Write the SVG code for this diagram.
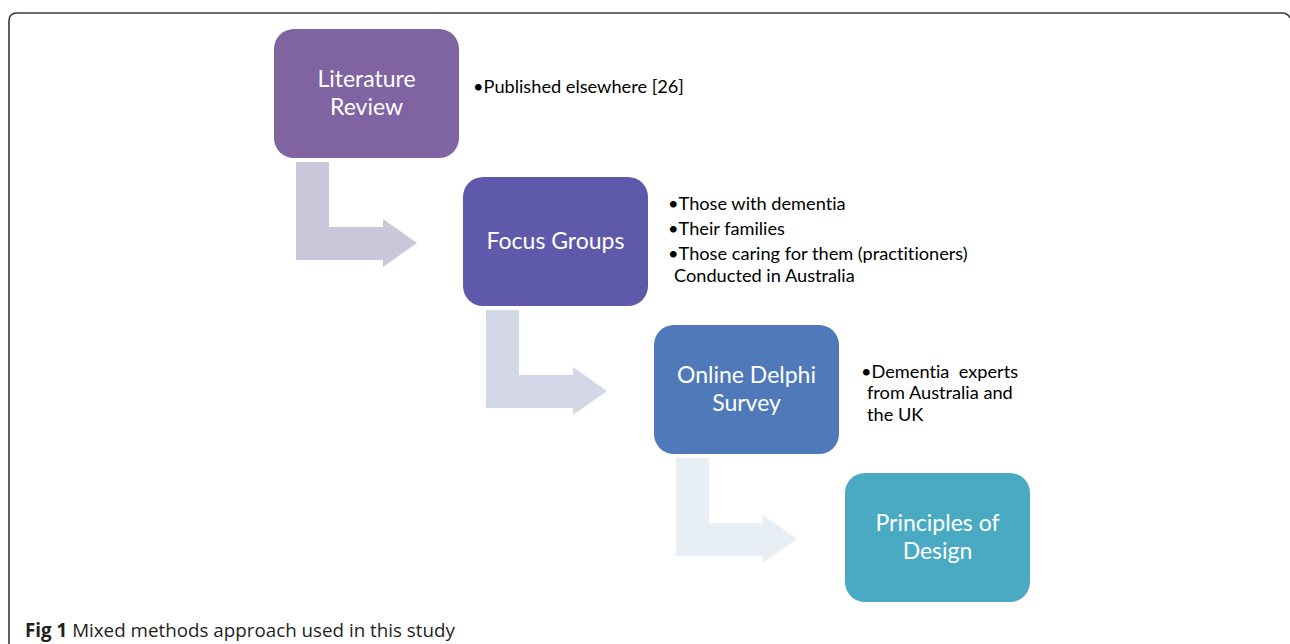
<svg xmlns="http://www.w3.org/2000/svg" width="1290" height="644" viewBox="0 0 1290 644">
<style>
text{font-variant-ligatures:none;font-feature-settings:"liga" 0,"dlig" 0}
.box text{font-family:Lato,"Open Sans","Liberation Sans",sans-serif;font-size:23px;fill:#ffffff;text-anchor:middle}
.note{font-family:Lato,"Open Sans","Liberation Sans",sans-serif;font-size:18.2px;fill:#000000}
.cap{font-family:"Open Sans","Liberation Sans",sans-serif;font-size:18.8px;fill:#231f20}
</style>
<rect width="1290" height="644" fill="#ffffff"/>
<path d="M9,644 V21 Q9,13 17,13 H1282 Q1288,13 1290,18" fill="none" stroke="#3a3a3a" stroke-width="1.6"/>
<g id="connectors">
<path d="M296,162 H329 V227 H383 V219 L417,243 L383,267 V260 H296 Z" fill="#ccc6da"/>
<path d="M486,310 H519 V375 H573 V367 L607,391 L573,415 V408 H486 Z" fill="#d4d7e7"/>
<path d="M676,458 H709 V523 H763 V515 L797,539 L763,563 V556 H676 Z" fill="#e8eff4"/>
</g>
<g id="literature-review" class="box">
<rect x="274" y="29" width="185" height="129" rx="20" fill="#8063a1"/>
<text x="366.5" y="87">Literature</text>
<text x="366.5" y="115">Review</text>
</g>
<g id="literature-notes">
<text class="note" x="473" y="93">•Published elsewhere [26]</text>
</g>
<g id="focus-groups" class="box">
<rect x="463" y="177" width="185" height="129" rx="20" fill="#5f59ab"/>
<text x="555.5" y="249">Focus Groups</text>
</g>
<g id="focus-notes">
<text class="note" x="668" y="210">•Those with dementia</text>
<text class="note" x="668" y="235">•Their families</text>
<text class="note" x="668" y="260">•Those caring for them (practitioners)</text>
<text class="note" x="674" y="282">Conducted in Australia</text>
</g>
<g id="online-delphi-survey" class="box">
<rect x="654" y="325" width="185" height="129" rx="20" fill="#5079b9"/>
<text x="746.5" y="383">Online Delphi</text>
<text x="746.5" y="411">Survey</text>
</g>
<g id="delphi-notes">
<text class="note" x="861" y="378">•Dementia&#160; experts</text>
<text class="note" x="867" y="399">from Australia and</text>
<text class="note" x="867" y="421">the UK</text>
</g>
<g id="principles-of-design" class="box">
<rect x="845" y="473" width="185" height="129" rx="20" fill="#4aaac4"/>
<text x="937.5" y="531">Principles of</text>
<text x="937.5" y="559">Design</text>
</g>
<text class="cap" x="25" y="637"><tspan font-weight="bold">Fig 1</tspan> Mixed methods approach used in this study</text>
</svg>
